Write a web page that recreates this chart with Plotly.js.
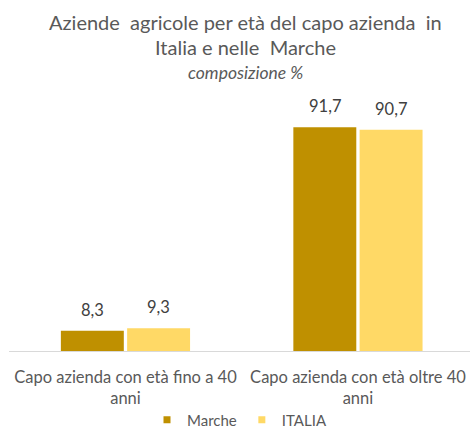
<!DOCTYPE html>
<html>
<head>
<meta charset="utf-8">
<script src="https://cdn.plot.ly/plotly-3.0.1.min.js"></script>
<style>html,body{margin:0;padding:0;background:#fff;}#chart{width:470px;height:428px;}</style>
</head>
<body>
<div id="chart"></div>
<script>
const categories = ["Capo azienda con età fino a 40<br>anni", "Capo azienda con età oltre 40<br>anni"];
const seriesNames = ["Marche", "ITALIA"];
const marcheValues = [8.3, 91.7];
const italiaValues = [9.3, 90.7];
const colors = ["#BF9000", "#FFD966"];
const titleLines = ["Aziende  agricole per età del capo azienda  in", "Italia e nelle  Marche"];
const subtitle = "composizione %";

const FONT = "Lato, 'Open Sans', sans-serif";
const TXT = "#595959";
const idx = categories.map((_, i) => i);
const allSeries = [marcheValues, italiaValues];

const traces = [];
allSeries.forEach((vals, k) => {
  traces.push({
    type: "bar", name: seriesNames[k], x: idx, y: vals,
    marker: {color: colors[k], line: {width: 0}},
    showlegend: false, hoverinfo: "skip"
  });
});
// legend-only entries with small square markers
allSeries.forEach((vals, k) => {
  traces.push({
    type: "scatter", mode: "markers", name: seriesNames[k],
    x: [null], y: [null],
    marker: {symbol: "square", size: 7, color: colors[k]},
    showlegend: true, hoverinfo: "skip"
  });
});

const annotations = [];
// data labels, built from the series arrays
const offsets = [-33, 33];
allSeries.forEach((vals, k) => {
  vals.forEach((v, i) => {
    annotations.push({
      x: idx[i], y: v, xref: "x", yref: "y",
      text: v.toFixed(1).replace(".", ","),
      showarrow: false, xshift: offsets[k], yshift: 9,
      yanchor: "bottom", xanchor: "center",
      font: {family: FONT, size: 16.5, color: "#404040"}
    });
  });
});
// title lines (paper coords: plot from y=107px to 351px, height 244)
const py = p => (351 - p) / 244;
const tx = 0.514;
annotations.push({
  text: titleLines[0], xref: "paper", yref: "paper", x: tx, y: py(22),
  xanchor: "center", yanchor: "middle", showarrow: false,
  font: {family: FONT, size: 20, color: TXT}
});
annotations.push({
  text: titleLines[1], xref: "paper", yref: "paper", x: tx, y: py(47),
  xanchor: "center", yanchor: "middle", showarrow: false,
  font: {family: FONT, size: 20, color: TXT}
});
annotations.push({
  text: "<i>" + subtitle + "</i>", xref: "paper", yref: "paper", x: tx, y: py(72),
  xanchor: "center", yanchor: "middle", showarrow: false,
  font: {family: FONT, size: 17.5, color: TXT}
});

const layout = {
  width: 470, height: 428,
  margin: {l: 9, r: 0, t: 107, b: 77},
  paper_bgcolor: "#fff", plot_bgcolor: "#fff",
  separators: ",.",
  font: {family: FONT, color: TXT},
  barmode: "group",
  bargap: 0.43,
  bargroupgap: 0.05,
  xaxis: {
    range: [-0.501, 1.482],
    tickmode: "array", tickvals: idx, ticktext: categories,
    tickfont: {family: FONT, size: 16.5, color: TXT},
    ticklabelstandoff: 11,
    showgrid: false, zeroline: false,
    showline: true, linecolor: "#D9D9D9", linewidth: 1,
    ticks: "", fixedrange: true
  },
  yaxis: {
    range: [0, 100],
    showticklabels: false, showgrid: false, zeroline: false, showline: false,
    fixedrange: true
  },
  annotations: annotations,
  showlegend: true,
  legend: {
    orientation: "h", x: 0.5, xanchor: "center",
    yref: "container", y: 8 / 428, yanchor: "middle",
    font: {family: FONT, size: 15, color: TXT},
    itemsizing: "trace"
  }
};

Plotly.newPlot("chart", traces, layout, {displayModeBar: false, staticPlot: true});
</script>
</body>
</html>
